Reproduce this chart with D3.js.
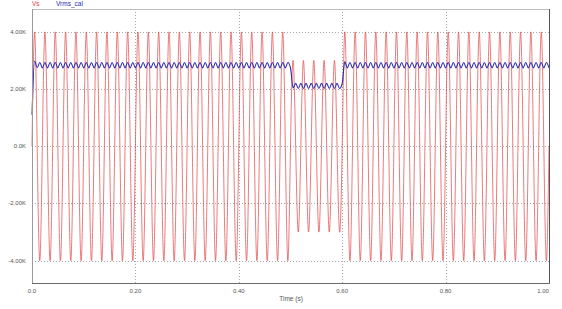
<!DOCTYPE html>
<html>
<head>
<meta charset="utf-8">
<script src="https://d3js.org/d3.v7.min.js"></script>
<style>
    body { margin: 0; background: #ffffff; }
    svg { display: block; }
</style>
</head>
<body>
<div id="my_dataviz"></div>
<script>

// sample step of the waveforms (s)
var sampleStep = 0.005;

// Vs - source voltage (zero crossings and half-cycle peaks, one row = 0.1 s)
var vsValues = [
    0, 4000, 0, -4000, 0, 4000, 0, -4000, 0, 4000, 0, -4000, 0, 4000, 0, -4000, 0, 4000, 0, -4000,
    0, 4000, 0, -4000, 0, 4000, 0, -4000, 0, 4000, 0, -4000, 0, 4000, 0, -4000, 0, 4000, 0, -4000,
    0, 4000, 0, -4000, 0, 4000, 0, -4000, 0, 4000, 0, -4000, 0, 4000, 0, -4000, 0, 4000, 0, -4000,
    0, 4000, 0, -4000, 0, 4000, 0, -4000, 0, 4000, 0, -4000, 0, 4000, 0, -4000, 0, 4000, 0, -4000,
    0, 4000, 0, -4000, 0, 4000, 0, -4000, 0, 4000, 0, -4000, 0, 4000, 0, -4000, 0, 4000, 0, -4000,
    0, 3000, 0, -3000, 0, 3000, 0, -3000, 0, 3000, 0, -3000, 0, 3000, 0, -3000, 0, 3000, 0, -3000,
    0, 4000, 0, -4000, 0, 4000, 0, -4000, 0, 4000, 0, -4000, 0, 4000, 0, -4000, 0, 4000, 0, -4000,
    0, 4000, 0, -4000, 0, 4000, 0, -4000, 0, 4000, 0, -4000, 0, 4000, 0, -4000, 0, 4000, 0, -4000,
    0, 4000, 0, -4000, 0, 4000, 0, -4000, 0, 4000, 0, -4000, 0, 4000, 0, -4000, 0, 4000, 0, -4000,
    0, 4000, 0, -4000, 0, 4000, 0, -4000, 0, 4000, 0, -4000, 0, 4000, 0, -4000, 0, 4000, 0, -4000,
    0
];

// Vrms_cal - calculated rms (ripple peaks, one row = 0.1 s)
var vrmsValues = [
    1100, 2980, 2750, 2930, 2740, 2930, 2740, 2930, 2740, 2930, 2740, 2930, 2740, 2930, 2740, 2930, 2740, 2930, 2740, 2930,
    2740, 2930, 2740, 2930, 2740, 2930, 2740, 2930, 2740, 2930, 2740, 2930, 2740, 2930, 2740, 2930, 2740, 2930, 2740, 2930,
    2740, 2930, 2740, 2930, 2740, 2930, 2740, 2930, 2740, 2930, 2740, 2930, 2740, 2930, 2740, 2930, 2740, 2930, 2740, 2930,
    2740, 2930, 2740, 2930, 2740, 2930, 2740, 2930, 2740, 2930, 2740, 2930, 2740, 2930, 2740, 2930, 2740, 2930, 2740, 2930,
    2740, 2930, 2740, 2930, 2740, 2930, 2740, 2930, 2740, 2930, 2740, 2930, 2740, 2930, 2740, 2930, 2740, 2930, 2740, 2930,
    2740, 2040, 2200, 2020, 2200, 2020, 2200, 2020, 2200, 2020, 2200, 2020, 2200, 2020, 2200, 2020, 2200, 2020, 2200, 2020,
    2200, 2960, 2740, 2930, 2740, 2930, 2740, 2930, 2740, 2930, 2740, 2930, 2740, 2930, 2740, 2930, 2740, 2930, 2740, 2930,
    2740, 2930, 2740, 2930, 2740, 2930, 2740, 2930, 2740, 2930, 2740, 2930, 2740, 2930, 2740, 2930, 2740, 2930, 2740, 2930,
    2740, 2930, 2740, 2930, 2740, 2930, 2740, 2930, 2740, 2930, 2740, 2930, 2740, 2930, 2740, 2930, 2740, 2930, 2740, 2930,
    2740, 2930, 2740, 2930, 2740, 2930, 2740, 2930, 2740, 2930, 2740, 2930, 2740, 2930, 2740, 2930, 2740, 2930, 2740, 2930,
    2740
];

// tick values and labels
var xTicks = [0, 0.2, 0.4, 0.6, 0.8, 1.0];
var xTickLabels = ["0.0", "0.20", "0.40", "0.60", "0.80", "1.00"];
var yTicks = [4000, 2000, 0, -2000, -4000];
var yTickLabels = ["4.00K", "2.00K", "0.0K", "-2.00K", "-4.00K"];

var seriesNames = ["Vs", "Vrms_cal"];
var seriesColors = ["#e03c3c", "#2b2bb0"];

// rozmery grafu
var width = 562, height = 309;
var plot = {left: 32, right: 549, top: 9, bottom: 283};

var svg = d3.select("#my_dataviz")
    .append("svg")
    .attr("width", width)
    .attr("height", height)
    .style("font-family", "'Liberation Sans', Arial, sans-serif");

var x = d3.scaleLinear()
    .domain([0, 1.0])
    .range([plot.left, plot.right]);

var y = d3.scaleLinear()
    .domain([-4780, 4800])
    .range([plot.bottom, plot.top]);

// mriežka
svg.append("g")
    .selectAll("line")
    .data(yTicks)
    .enter()
    .append("line")
    .attr("x1", plot.left)
    .attr("x2", plot.right)
    .attr("y1", function (d) { return Math.round(y(d)) + 0.5; })
    .attr("y2", function (d) { return Math.round(y(d)) + 0.5; })
    .attr("stroke", "#a8a8a8")
    .attr("stroke-width", 1)
    .attr("stroke-dasharray", "1,2");

svg.append("g")
    .selectAll("line")
    .data(xTicks.slice(1, -1))
    .enter()
    .append("line")
    .attr("x1", function (d) { return Math.round(x(d)) + 0.5; })
    .attr("x2", function (d) { return Math.round(x(d)) + 0.5; })
    .attr("y1", plot.top)
    .attr("y2", plot.bottom)
    .attr("stroke", "#a8a8a8")
    .attr("stroke-width", 1)
    .attr("stroke-dasharray", "1,2");

// Vs krivka
var vsLine = d3.line()
    .x(function (d, i) { return x(i * sampleStep); })
    .y(function (d) { return y(d); })
    .curve(d3.curveNatural);

svg.append("path")
    .datum(vsValues)
    .attr("fill", "none")
    .attr("stroke", seriesColors[0])
    .attr("stroke-width", 0.75)
    .attr("stroke-opacity", 0.9)
    .attr("d", vsLine);

// Vrms_cal krivka
var vrmsLine = d3.line()
    .x(function (d, i) { return x(i * sampleStep); })
    .y(function (d) { return y(d); })
    .curve(d3.curveMonotoneX);

svg.append("path")
    .datum(vrmsValues)
    .attr("fill", "none")
    .attr("stroke", seriesColors[1])
    .attr("stroke-width", 1.1)
    .attr("d", vrmsLine);

// rám grafu
svg.append("line")
    .attr("x1", plot.left).attr("x2", plot.right)
    .attr("y1", plot.top + 0.5).attr("y2", plot.top + 0.5)
    .attr("stroke", "#bdbdbd");
svg.append("line")
    .attr("x1", plot.left + 0.5).attr("x2", plot.left + 0.5)
    .attr("y1", plot.top).attr("y2", plot.bottom)
    .attr("stroke", "#9a9a9a");
svg.append("line")
    .attr("x1", plot.right + 0.5).attr("x2", plot.right + 0.5)
    .attr("y1", plot.top).attr("y2", plot.bottom + 1)
    .attr("stroke", "#555555");
svg.append("line")
    .attr("x1", plot.left).attr("x2", plot.right + 1)
    .attr("y1", plot.bottom + 0.5).attr("y2", plot.bottom + 0.5)
    .attr("stroke", "#6a6a6a");

// popisky osí
svg.append("g")
    .selectAll("text")
    .data(yTicks)
    .enter()
    .append("text")
    .attr("x", 26)
    .attr("y", function (d) { return y(d) + 2; })
    .attr("text-anchor", "end")
    .attr("font-size", "6px")
    .attr("fill", "#555555")
    .text(function (d, i) { return yTickLabels[i]; });

svg.append("g")
    .selectAll("text")
    .data(xTicks)
    .enter()
    .append("text")
    .attr("x", function (d, i) { return i === xTicks.length - 1 ? x(d) - 6 : x(d); })
    .attr("y", 293)
    .attr("text-anchor", "middle")
    .attr("font-size", "6px")
    .attr("fill", "#555555")
    .text(function (d, i) { return xTickLabels[i]; });

svg.append("text")
    .attr("x", 291)
    .attr("y", 301)
    .attr("text-anchor", "middle")
    .attr("font-size", "6.5px")
    .attr("fill", "#555555")
    .text("Time (s)");

// legenda
svg.append("text")
    .attr("x", 32)
    .attr("y", 6)
    .attr("font-size", "6.5px")
    .attr("fill", seriesColors[0])
    .text(seriesNames[0]);

svg.append("text")
    .attr("x", 56)
    .attr("y", 6)
    .attr("font-size", "6.5px")
    .attr("fill", seriesColors[1])
    .text(seriesNames[1]);

</script>
</body>
</html>
